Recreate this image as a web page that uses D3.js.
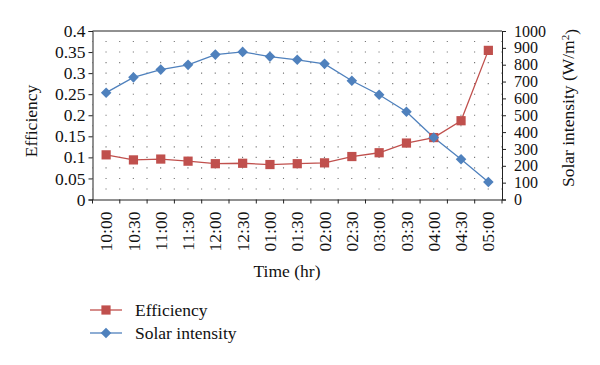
<html>
<head>
<script src="https://d3js.org/d3.v7.min.js"></script>
<style>
  body { margin: 0; background: #fff; }
  svg text { fill: #111; }
</style>
</head>
<body>
<svg width="600" height="365" font-family="Liberation Serif, DejaVu Serif, serif"></svg>
<script>
// data
var times = ["10:00","10:30","11:00","11:30","12:00","12:30","01:00","01:30",
             "02:00","02:30","03:00","03:30","04:00","04:30","05:00"];
var efficiency = [0.106,0.094,0.096,0.091,0.085,0.086,0.083,0.085,
                  0.087,0.102,0.111,0.134,0.147,0.187,0.354];
var solar = [634,725,771,799,860,876,848,829,805,705,622,521,368,239,104];
var effTicks = [0,0.05,0.1,0.15,0.2,0.25,0.3,0.35,0.4];
var solarTicks = [0,100,200,300,400,500,600,700,800,900,1000];

var red = "#c0504d", blue = "#4f81bd";
var pLeft = 92.5, pRight = 502, pTop = 31, pBottom = 199.5;
var fs = "17.5px";
var serif = "'Liberation Serif', 'DejaVu Serif', serif";

var svg = d3.select("svg");

var x = d3.scaleBand().domain(times).range([pLeft, pRight]);
var yL = d3.scaleLinear().domain([0, 0.4]).range([pBottom, pTop]);
var yR = d3.scaleLinear().domain([0, 1000]).range([pBottom, pTop]);
var cx = function(d) { return x(d) + x.bandwidth() / 2; };

// dotted grid
var grid = svg.append("g").attr("stroke", "#444").attr("stroke-width", 1.1);
var halfTicks = d3.range(1, 16).map(function(i) { return i * 0.025; });
halfTicks.forEach(function(t) {
  grid.append("line")
    .attr("x1", pLeft).attr("x2", pRight)
    .attr("y1", yL(t)).attr("y2", yL(t))
    .attr("stroke-dasharray", "1.1,12.55")
    .attr("stroke-dashoffset", -13)
    .attr("opacity", 0.75);
});

// axes
svg.append("g")
  .attr("transform", "translate(" + pLeft + ",0)")
  .call(d3.axisLeft(yL).tickValues(effTicks).tickSize(4).tickPadding(3)
        .tickFormat(function(d) { return String(+d.toFixed(2)); }))
  .call(function(g) {
    g.selectAll("text").style("font-size", fs).style("font-family", serif);
    g.selectAll("line,path").attr("stroke", "#222");
  });

svg.append("g")
  .attr("transform", "translate(" + pRight + ",0)")
  .call(d3.axisRight(yR).tickValues(solarTicks).tickSize(4).tickPadding(8)
        .tickFormat(d3.format("d")))
  .call(function(g) {
    g.selectAll("text").style("font-size", "16px").style("font-family", serif);
    g.selectAll("line,path").attr("stroke", "#222");
  });

var xAxis = svg.append("g")
  .attr("transform", "translate(0," + pBottom + ")")
  .call(d3.axisBottom(x).tickSize(0).tickPadding(0));
xAxis.select("path").attr("stroke", "#222");
xAxis.selectAll("text")
  .style("font-size", fs).style("font-family", serif)
  .attr("transform", "rotate(-90)")
  .attr("text-anchor", "end")
  .attr("dy", "0.35em")
  .attr("x", -12).attr("y", 0);
// ticks at category boundaries
xAxis.selectAll(".bound").data(d3.range(times.length + 1)).enter()
  .append("line")
  .attr("x1", function(i) { return pLeft + i * x.bandwidth(); })
  .attr("x2", function(i) { return pLeft + i * x.bandwidth(); })
  .attr("y1", 0).attr("y2", 4)
  .attr("stroke", "#222");

// top border
svg.append("line")
  .attr("x1", pLeft).attr("x2", pRight).attr("y1", pTop).attr("y2", pTop)
  .attr("stroke", "#222");

// lines
svg.append("path")
  .datum(times)
  .attr("fill", "none").attr("stroke", red).attr("stroke-width", 1.3)
  .attr("d", d3.line().x(cx).y(function(d, i) { return yL(efficiency[i]); }));

svg.append("path")
  .datum(times)
  .attr("fill", "none").attr("stroke", blue).attr("stroke-width", 1.3)
  .attr("d", d3.line().x(cx).y(function(d, i) { return yR(solar[i]); }));

// markers
var sq = d3.symbol().type(d3.symbolSquare).size(85);
var dia = d3.symbol().type(d3.symbolSquare).size(56);

svg.selectAll(".eff").data(times).enter().append("path")
  .attr("d", sq)
  .attr("transform", function(d, i) { return "translate(" + cx(d) + "," + yL(efficiency[i]) + ")"; })
  .attr("fill", red);

svg.selectAll(".sol").data(times).enter().append("path")
  .attr("d", dia)
  .attr("transform", function(d, i) { return "translate(" + cx(d) + "," + yR(solar[i]) + ") rotate(45)"; })
  .attr("fill", blue);

// axis titles
svg.append("text")
  .attr("transform", "translate(37,121) rotate(-90)")
  .attr("text-anchor", "middle")
  .style("font-size", fs).style("font-family", serif)
  .text("Efficiency");

var rt = svg.append("text")
  .attr("transform", "translate(574,108) rotate(-90)")
  .attr("text-anchor", "middle")
  .style("font-size", fs).style("font-family", serif);
rt.append("tspan").text("Solar intensity (W/m");
rt.append("tspan").attr("dy", "-0.45em").style("font-size", "11px").text("2");
rt.append("tspan").attr("dy", "0.45em").text(")");

svg.append("text")
  .attr("x", 287).attr("y", 277)
  .attr("text-anchor", "middle")
  .style("font-size", fs).style("font-family", serif)
  .text("Time (hr)");

// legend
var legend = [
  { name: "Efficiency", color: red, sym: sq, rot: 0 },
  { name: "Solar intensity", color: blue, sym: dia, rot: 45 }
];
var lg = svg.selectAll(".lg").data(legend).enter().append("g")
  .attr("transform", function(d, i) { return "translate(90," + (310 + i * 23) + ")"; });
lg.append("line").attr("x1", 0).attr("x2", 32).attr("y1", 0).attr("y2", 0)
  .attr("stroke", function(d) { return d.color; }).attr("stroke-width", 1.3);
lg.append("path").attr("d", function(d) { return d.sym(); })
  .attr("transform", function(d) { return "translate(16,0) rotate(" + d.rot + ")"; })
  .attr("fill", function(d) { return d.color; });
lg.append("text").attr("x", 45).attr("y", 0).attr("dy", "0.33em")
  .style("font-size", fs).style("font-family", serif)
  .text(function(d) { return d.name; });
</script>
</body>
</html>
